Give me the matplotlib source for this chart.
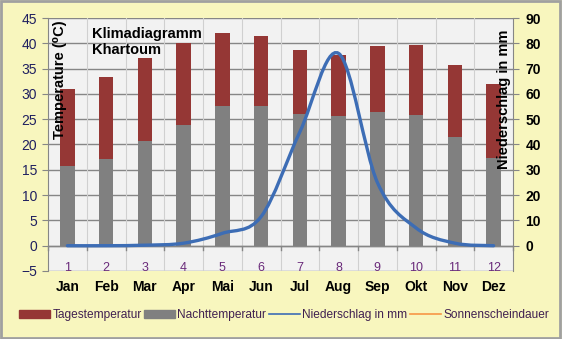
import matplotlib.pyplot as plt
import numpy as np
from matplotlib.path import Path
from matplotlib.patches import PathPatch, Rectangle
from matplotlib.lines import Line2D
from matplotlib.transforms import blended_transform_factory

monate = ['Jan', 'Feb', 'Mar', 'Apr', 'Mai', 'Jun', 'Jul', 'Aug', 'Sep', 'Okt', 'Nov', 'Dez']
nummern = ['1', '2', '3', '4', '5', '6', '7', '8', '9', '10', '11', '12']
tag = [30.9, 33.4, 37.1, 40.1, 42.1, 41.5, 38.7, 37.6, 39.5, 39.7, 35.7, 32.0]
nacht = [15.8, 17.1, 20.7, 23.9, 27.6, 27.6, 26.0, 25.6, 26.5, 25.8, 21.5, 17.3]
regen = [0, 0, 0.2, 1.0, 4.9, 11.5, 45, 76, 25, 7, 1, 0]

BG = '#F8F6BE'
ROT = '#953735'
GRAU = '#808080'
BLAU = '#3D6DB5'
ORANGE = '#F79646'
LILA = '#402050'

def smooth_path(x, y):
    # Bezier segments like a spreadsheet "smoothed line"
    x = np.asarray(x, float)
    y = np.asarray(y, float)
    px = np.concatenate([[x[0]], x, [x[-1]]])
    py = np.concatenate([[y[0]], y, [y[-1]]])
    verts = [(x[0], y[0])]
    codes = [Path.MOVETO]
    for i in range(1, len(x)):
        c1 = (px[i] + (px[i + 1] - px[i - 1]) / 6, py[i] + (py[i + 1] - py[i - 1]) / 6)
        c2 = (px[i + 1] - (px[i + 2] - px[i]) / 6, py[i + 1] - (py[i + 2] - py[i]) / 6)
        verts += [c1, c2, (px[i + 1], py[i + 1])]
        codes += [Path.CURVE4] * 3
    return Path(verts, codes)

fig = plt.figure(figsize=(5.62, 3.39), dpi=100, facecolor=BG)
ax = fig.add_axes([48 / 562, 1 - 271 / 339, 465 / 562, 253 / 339])
ax.set_facecolor('#F2F2F2')

x = np.arange(12)
ax.bar(x, tag, width=0.38, color=ROT, zorder=3)
ax.bar(x, nacht, width=0.38, color=GRAU, zorder=4)

ax.set_xlim(-0.5, 11.5)
ax.set_ylim(-5, 45)
ax.set_yticks(range(-5, 50, 5))
for v in range(-5, 50, 5):
    ax.axhline(v, color='#868686', lw=1.0, zorder=1)
for v in np.arange(0.5, 11.5, 1):
    ax.axvline(v, color='#D0D0D0', lw=0.8, zorder=1)
ax.tick_params(axis='y', direction='out', length=4, color='#868686', labelsize=10,
               labelcolor='#202060', pad=4)
ax.set_xticks([])
for s in ['top', 'right', 'bottom']:
    ax.spines[s].set_visible(False)
ax.spines['left'].set_color('#868686')

# x axis through zero with ticks at the category borders
ax.axhline(0, color='#868686', lw=1.0, zorder=2)
for v in np.arange(-0.5, 12, 1):
    ax.plot([v, v], [0, -0.8], color='#868686', lw=1.0, zorder=2, clip_on=False)

trans = blended_transform_factory(ax.transData, ax.transAxes)
for i in range(12):
    ax.text(i, 0.012, nummern[i], transform=trans, ha='center', va='center',
            fontsize=9, color='#6A2A7A', family='Liberation Sans', zorder=6)
    ax.text(i, -0.035, monate[i], transform=trans, ha='center', va='top',
            fontsize=10, fontweight='bold', family='Liberation Sans')

ax2 = ax.twinx()
ax2.set_ylim(-10, 90)
ax2.set_yticks(range(0, 100, 10))
ax2.tick_params(axis='y', direction='out', length=4, color='#868686', labelsize=10,
                pad=5)
for lab in ax2.get_yticklabels():
    lab.set_fontweight('bold')
    lab.set_family('Liberation Sans')
for s in ['top', 'left', 'bottom']:
    ax2.spines[s].set_visible(False)
ax2.spines['right'].set_color('#868686')
ax2.add_patch(PathPatch(smooth_path(x, regen), facecolor='none', edgecolor=BLAU,
                        lw=2.4, zorder=5, capstyle='round'))

for lab in ax.get_yticklabels():
    lab.set_family('Liberation Sans')

ax.text(0.025, 0.99, 'Temperature (⁰C)', transform=ax.transAxes, rotation=90,
        ha='center', va='top', fontsize=10.5, fontweight='bold',
        family=['Liberation Sans', 'DejaVu Sans'], zorder=7)
ax.text(0.98, 0.955, 'Niederschlag in mm', transform=ax.transAxes, rotation=90,
        ha='center', va='top', fontsize=10.5, fontweight='bold',
        family='Liberation Sans', zorder=7)
ax.text(0.095, 0.965, 'Klimadiagramm\nKhartoum', transform=ax.transAxes,
        ha='left', va='top', fontsize=10.5, fontweight='bold', linespacing=1.2,
        family='Liberation Sans', zorder=7)

handles = [Rectangle((0, 0), 1, 1, color=ROT), Rectangle((0, 0), 1, 1, color=GRAU),
           Line2D([], [], color=BLAU, lw=1.2), Line2D([], [], color=ORANGE, lw=1.2)]
labels = ['Tagestemperatur', 'Nachttemperatur', 'Niederschlag in mm', 'Sonnenscheindauer']
leg = fig.legend(handles, labels, loc='center', bbox_to_anchor=(0.505, 1 - 315 / 339),
                 ncol=4, frameon=False, handlelength=2.6, handleheight=0.6,
                 handletextpad=0.2, columnspacing=0.2,
                 prop={'family': 'Liberation Sans', 'size': 8.6})
for t in leg.get_texts():
    t.set_color(LILA)

fig.patches.append(Rectangle((0.002, 0.003), 0.995, 0.993, transform=fig.transFigure,
                             fill=False, edgecolor='#A0A0A0', lw=2))

fig.savefig('out.png', dpi=100, facecolor=BG)
